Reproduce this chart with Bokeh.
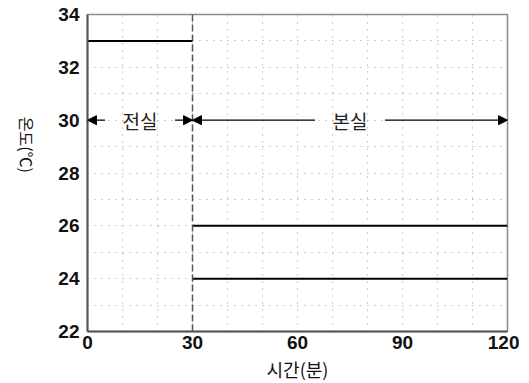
import math
from bokeh.plotting import figure
from bokeh.models import Range1d, FixedTicker, Label, Arrow, NormalHead, Span
from bokeh.embed import file_html
from bokeh.resources import INLINE

# ---- data ----
x_ticks = [0, 30, 60, 90, 120]
y_ticks = [22, 24, 26, 28, 30, 32, 34]
ante_time = [0, 30]
ante_temp = [33, 33]
main_time = [30, 120]
main_temp_high = [26, 26]
main_temp_low = [24, 24]
boundary_time = 30
phase_names = ["전실", "본실"]
phase_spans = [(0, 30), (30, 120)]
phase_label_x = [15, 75]
phase_label_halfgap = [10, 10]
arrow_level = 30
x_label = "시간(분)"
y_label = "온도(℃)"

p = figure(frame_width=420, frame_height=317, output_backend="svg", toolbar_location=None,
           x_range=Range1d(0, 120), y_range=Range1d(22, 34),
           min_border_left=81, min_border_right=12, min_border_top=14, min_border_bottom=10)
p.background_fill_color = "white"
p.border_fill_color = "white"
p.outline_line_color = "#8c8c8c"
p.outline_line_width = 1.5

p.xaxis.ticker = FixedTicker(ticks=x_ticks)
p.yaxis.ticker = FixedTicker(ticks=y_ticks)
p.xgrid.ticker = FixedTicker(ticks=list(range(0, 121, 10)))
p.ygrid.ticker = FixedTicker(ticks=list(range(22, 35, 1)))
for g in (p.xgrid, p.ygrid):
    g.grid_line_color = "#9a9a9a"
    g.grid_line_dash = "1 6"
    g.grid_line_width = 1

for ax in (p.xaxis, p.yaxis):
    ax.major_tick_line_color = None
    ax.minor_tick_line_color = None
    ax.major_tick_out = 0
    ax.major_tick_in = 0
    ax.axis_line_color = "#555555"
    ax.axis_line_width = 2
    ax.major_label_text_font = "Liberation Sans"
    ax.major_label_text_font_style = "bold"
    ax.major_label_text_font_size = "19px"
    ax.major_label_text_color = "#111111"
    ax.axis_label_text_font = "Noto Sans CJK KR"
    ax.axis_label_text_font_style = "normal"
    ax.axis_label_text_color = "#111111"
p.xaxis.major_label_standoff = 4
p.yaxis.major_label_standoff = 8

p.xaxis.axis_label = x_label
p.xaxis.axis_label_text_font_size = "18px"
p.xaxis.axis_label_standoff = 4

p.yaxis.axis_label = y_label
p.yaxis.axis_label_text_font_size = "16px"
p.yaxis.axis_label_standoff = 28
try:
    p.yaxis.axis_label_orientation = -math.pi / 2
except Exception:
    pass

# boundary dashed line
p.add_layout(Span(location=boundary_time, dimension="height", line_color="#555555",
                  line_dash="7 3", line_width=1.5))

# data lines
p.line(ante_time, ante_temp, line_color="black", line_width=2)
p.line(main_time, main_temp_high, line_color="black", line_width=2)
p.line(main_time, main_temp_low, line_color="black", line_width=2)

# phase arrows with labels
for name, (a, b), lx, hg in zip(phase_names, phase_spans, phase_label_x, phase_label_halfgap):
    p.add_layout(Arrow(x_start=lx - hg, y_start=arrow_level, x_end=a, y_end=arrow_level,
                       line_color="black", line_width=1.2,
                       end=NormalHead(size=9, fill_color="black", line_color="black")))
    p.add_layout(Arrow(x_start=lx + hg, y_start=arrow_level, x_end=b, y_end=arrow_level,
                       line_color="black", line_width=1.2,
                       end=NormalHead(size=9, fill_color="black", line_color="black")))
    p.add_layout(Label(x=lx, y=arrow_level, text=name, text_align="center",
                       text_baseline="middle", text_font="Noto Sans CJK KR",
                       text_font_size="19px", text_color="#222222"))

open("out.html", "w").write(file_html(p, INLINE))
